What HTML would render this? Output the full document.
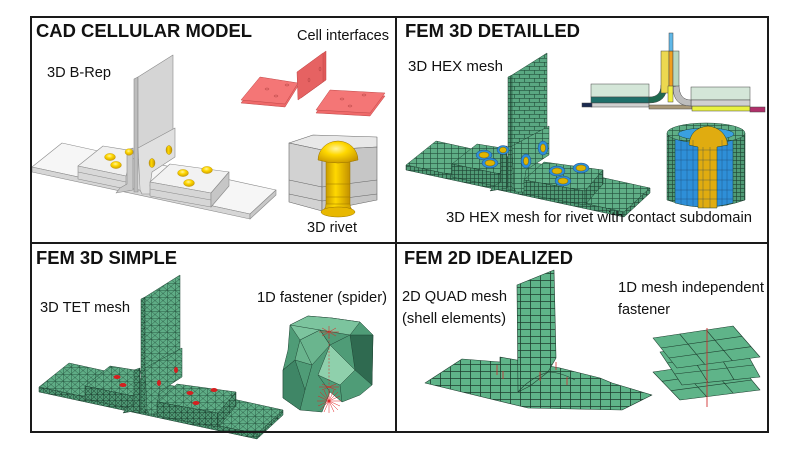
<!DOCTYPE html>
<html><head><meta charset="utf-8"><style>
html,body{margin:0;padding:0;background:#fff;}
svg{display:block;}
.h{font-family:"Liberation Sans",Arial,sans-serif;font-weight:bold;font-size:18.5px;fill:#111;}
.l{font-family:"Liberation Sans",Arial,sans-serif;font-size:14.7px;fill:#111;}
</style></head><body>
<svg width="800" height="450" viewBox="0 0 800 450" xmlns="http://www.w3.org/2000/svg">
<defs>
<pattern id="hexT" width="7" height="5" patternUnits="userSpaceOnUse"><rect width="7" height="5" fill="#5fae86"/><path d="M0 0.3H7M0.3 0V5" stroke="#24503c" stroke-width="0.7"/></pattern>
<pattern id="hexF" width="4" height="4" patternUnits="userSpaceOnUse"><rect width="4" height="4" fill="#4f9a75"/><path d="M0 0.3H4M0.3 0V4" stroke="#1f4433" stroke-width="0.7"/></pattern>
<pattern id="brick" width="10" height="8" patternUnits="userSpaceOnUse"><rect width="10" height="8" fill="#5aa882"/><path d="M0 0.3H10M0 4.3H10M0.3 0V4M5.3 4V8" stroke="#24503c" stroke-width="0.7"/></pattern>
<pattern id="tetT" width="8" height="7" patternUnits="userSpaceOnUse"><rect width="8" height="7" fill="#5fad86"/><path d="M0 0.3H8M0.3 0V7M0 0L8 7M8 0L0 7" stroke="#2a5a44" stroke-width="0.5"/></pattern>
<pattern id="tetF" width="6" height="6" patternUnits="userSpaceOnUse"><rect width="6" height="6" fill="#4d9672"/><path d="M0 0.3H6M0.3 0V6M0 0L6 6M6 0L0 6" stroke="#1f4433" stroke-width="0.5"/></pattern>
<pattern id="shell" width="10" height="7" patternUnits="userSpaceOnUse"><rect width="10" height="7" fill="#5fb489"/><path d="M0 0.4H10M0.4 0V7" stroke="#1d3d2e" stroke-width="0.8"/></pattern>
<linearGradient id="yel" x1="0" x2="1" y1="0" y2="0"><stop offset="0" stop-color="#c89a00"/><stop offset="0.4" stop-color="#ffd800"/><stop offset="1" stop-color="#c29000"/></linearGradient>
<radialGradient id="dome" cx="0.45" cy="0.35" r="0.7"><stop offset="0" stop-color="#fff4a0"/><stop offset="0.4" stop-color="#ffd800"/><stop offset="1" stop-color="#c89600"/></radialGradient>
</defs>
<rect width="800" height="450" fill="#fff"/>

<!-- ============ PANEL 1: CAD ============ -->
<g stroke="#8a8a8a" stroke-width="0.6" stroke-linejoin="round">
  <polygon points="32,167 62,143 276,190 250,214" fill="#f6f6f6"/>
  <polygon points="32,167 250,214 250,219 32,172" fill="#d6d6d6"/>
  <polygon points="250,214 276,190 276,195 250,219" fill="#c8c8c8"/>
  <polygon points="78,166 103,146 134,151 126,176" fill="#f0f0f0"/>
  <polygon points="78,166 126,176 126,189 78,179" fill="#d8d8d8"/>
  <line x1="78" y1="172" x2="126" y2="182"/>
  <polygon points="127,150 133,148 133,190 116,193 120,188 127,184" fill="#cacaca"/>
  <polygon points="134,79 138,77 138,192 134,192" fill="#bdbdbd"/>
  <polygon points="138,77 173,55 173,130 138,150" fill="#d5d5d5"/>
  <polygon points="138,148 175,128 175,157 152,172 150,186 160,194 142,194 140,190" fill="#e0e0e0"/>
  <polygon points="150,182 170,164 229,172 211,193" fill="#f2f2f2"/>
  <polygon points="150,182 211,193 211,207 150,196" fill="#d6d6d6"/>
  <polygon points="211,193 229,172 229,186 211,207" fill="#c6c6c6"/>
  <line x1="150" y1="189" x2="211" y2="200"/>
</g>
<g fill="url(#yel)" stroke="#a07a00" stroke-width="0.4">
  <ellipse cx="152" cy="163" rx="3" ry="4.5"/><ellipse cx="169" cy="150" rx="3" ry="4.5"/>
</g>
<g fill="url(#dome)" stroke="#b08800" stroke-width="0.3">
  <ellipse cx="110" cy="157" rx="5.5" ry="3.6"/><ellipse cx="116" cy="165" rx="5.5" ry="3.6"/><ellipse cx="129" cy="152" rx="4" ry="3.3"/>
  <ellipse cx="183" cy="173" rx="5.5" ry="3.6"/><ellipse cx="207" cy="170" rx="5.5" ry="3.6"/><ellipse cx="189" cy="183" rx="5.5" ry="3.6"/>
</g>

<!-- cell interfaces -->
<g stroke="#c04848" stroke-width="0.5" stroke-linejoin="round">
  <polygon points="241,103 260,80 298,86 285,107" fill="#ef6a6a"/>
  <polygon points="241,100 260,77 298,83 285,104" fill="#f47676"/>
  <polygon points="300,70 326,51 326,80 301,98" fill="#e05858"/>
  <polygon points="297,72 323,53 323,82 298,100" fill="#e66262"/>
  <polygon points="316,113 330,93 385,96 370,116" fill="#ef6a6a"/>
  <polygon points="316,110 330,90 385,93 370,113" fill="#f47676"/>
</g>
<g fill="none" stroke="#b04040" stroke-width="0.5">
  <ellipse cx="267" cy="89" rx="2" ry="1"/><ellipse cx="287" cy="85" rx="2" ry="1"/><ellipse cx="276" cy="96" rx="2" ry="1"/>
  <ellipse cx="309" cy="80" rx="1" ry="2"/><ellipse cx="320" cy="69" rx="1" ry="2"/>
  <ellipse cx="342" cy="99" rx="2" ry="1"/><ellipse cx="364" cy="95" rx="2" ry="1"/><ellipse cx="350" cy="106" rx="2" ry="1"/>
</g>

<!-- 3D rivet block -->
<g stroke="#666" stroke-width="0.6" stroke-linejoin="round">
  <polygon points="289,143 313,135 377,137 377,147 322,150" fill="#e8e8e8"/>
  <polygon points="289,143 322,150 322,211 289,202" fill="#d2d2d2"/>
  <polygon points="322,150 377,147 377,200 322,211" fill="#c6c6c6"/>
  <line x1="289" y1="180" x2="322" y2="187"/><line x1="289" y1="194" x2="322" y2="201"/>
  <line x1="322" y1="187" x2="377" y2="180"/><line x1="322" y1="201" x2="377" y2="194"/>
</g>
<g stroke="#9a7400" stroke-width="0.5">
  <rect x="326" y="158" width="24" height="50" fill="url(#yel)"/>
  <line x1="326" y1="184" x2="350" y2="184"/><line x1="326" y1="197" x2="350" y2="197"/>
  <path d="M326,204 Q326,209 321,212 L355,212 Q350,209 350,204 Z" fill="url(#yel)"/>
  <ellipse cx="338" cy="212" rx="17" ry="5" fill="#e8b800"/>
  <path d="M318,160 A20,19 0 0 1 358,160 Q338,166 318,160 Z" fill="url(#dome)"/>
</g>

<!-- ============ PANEL 2: FEM 3D DETAILLED ============ -->
<g transform="translate(374,-2)" stroke="#1f4433" stroke-width="0.5" stroke-linejoin="round">
  <polygon points="32,167 62,143 276,190 250,214" fill="url(#hexT)"/>
  <polygon points="32,167 250,214 250,219 32,172" fill="url(#hexF)"/>
  <polygon points="250,214 276,190 276,195 250,219" fill="url(#hexF)"/>
  <polygon points="78,166 103,146 134,151 126,176" fill="url(#hexT)"/>
  <polygon points="78,166 126,176 126,189 78,179" fill="url(#hexF)"/>
  <polygon points="127,150 133,148 133,190 116,193 120,188 127,184" fill="url(#hexF)"/>
  <polygon points="134,79 138,77 138,192 134,192" fill="url(#hexF)"/>
  <polygon points="138,77 173,55 173,130 138,150" fill="url(#brick)"/>
  <polygon points="138,148 175,128 175,157 152,172 150,186 160,194 142,194 140,190" fill="url(#hexT)"/>
  <polygon points="150,182 170,164 229,172 211,193" fill="url(#hexT)"/>
  <polygon points="150,182 211,193 211,207 150,196" fill="url(#hexF)"/>
  <polygon points="211,193 229,172 229,186 211,207" fill="url(#hexF)"/>
  <g stroke="#1a3a70" stroke-width="0.4">
    <ellipse cx="152" cy="163" rx="5" ry="7" fill="#2e8fd8"/><ellipse cx="169" cy="150" rx="5" ry="7" fill="#2e8fd8"/>
    <ellipse cx="110" cy="157" rx="8" ry="5" fill="#2e8fd8"/><ellipse cx="116" cy="165" rx="8" ry="5" fill="#2e8fd8"/><ellipse cx="129" cy="152" rx="6" ry="4.5" fill="#2e8fd8"/>
    <ellipse cx="183" cy="173" rx="8" ry="5" fill="#2e8fd8"/><ellipse cx="207" cy="170" rx="8" ry="5" fill="#2e8fd8"/><ellipse cx="189" cy="183" rx="8" ry="5" fill="#2e8fd8"/>
  </g>
  <g fill="#e0b400" stroke="#6a5000" stroke-width="0.4">
    <ellipse cx="152" cy="163" rx="2.5" ry="4"/><ellipse cx="169" cy="150" rx="2.5" ry="4"/>
    <ellipse cx="110" cy="157" rx="5" ry="3"/><ellipse cx="116" cy="165" rx="5" ry="3"/><ellipse cx="129" cy="152" rx="3.5" ry="2.8"/>
    <ellipse cx="183" cy="173" rx="5" ry="3"/><ellipse cx="207" cy="170" rx="5" ry="3"/><ellipse cx="189" cy="183" rx="5" ry="3"/>
  </g>
</g>

<!-- section view -->
<g stroke="#444" stroke-width="0.5">
  <rect x="591" y="84" width="58" height="13" fill="#d4e6d8"/>
  <rect x="591" y="97" width="58" height="6" fill="#1f6f6a"/>
  <rect x="591" y="103" width="58" height="4" fill="#d0d0d0"/>
  <rect x="582" y="103" width="10" height="4" fill="#1a2a50"/>
  <rect x="649" y="105" width="43" height="4" fill="#a89878"/>
  <rect x="692" y="106" width="58" height="5" fill="#e8f040"/>
  <rect x="750" y="107" width="15" height="5" fill="#b0306a"/>
  <rect x="691" y="87" width="59" height="13" fill="#d4e6d8"/>
  <rect x="691" y="100" width="59" height="6" fill="#d0d0d0"/>
  <path d="M649,97 Q661,97 661,85 L667,85 Q667,103 649,103 Z" fill="#1f6a50"/>
  <path d="M679,85 Q679,100 691,100 L691,106 Q673,106 673,87 Z" fill="#bdbdbd"/>
  <rect x="661" y="51" width="8" height="42" fill="#ecd850"/>
  <rect x="669" y="51" width="4" height="42" fill="#f0a020"/>
  <rect x="673" y="51" width="6" height="35" fill="#b8d8c0"/>
  <rect x="668" y="86" width="5" height="16" fill="#f0f040"/>
  <rect x="669" y="33" width="4" height="18" fill="#60b8e8"/>
</g>

<!-- cylinder rivet section -->
<g stroke="#1f4433" stroke-width="0.5">
  <path d="M667,133 L667,200 Q706,214 745,200 L745,133 Z" fill="url(#hexF)"/>
  <path d="M675,137 L675,203 Q704,211 733,203 L733,137 Z" fill="#2e8fd8"/>
  <ellipse cx="706" cy="133" rx="39" ry="10" fill="url(#hexT)"/>
  <ellipse cx="706" cy="134" rx="28" ry="6" fill="#3aa0e0"/>
  <path d="M698,147 L698,208 L717,208 L717,147 L728,145 Q725,128 708,126 Q690,128 689,145 Z" fill="#e0ac10"/>
</g>
<g stroke="#1a3a60" stroke-width="0.4" opacity="0.8">
  <path d="M681,138V205M687,139V206M693,140V207M722,140V207M727,139V206M703,147V208M710,147V208M675,150H733M675,160H733M675,170H733M675,180H733M675,190H733M675,199H733"/>
</g>

<!-- ============ PANEL 3: FEM 3D SIMPLE ============ -->
<g transform="translate(7,220)" stroke="#1f4433" stroke-width="0.5" stroke-linejoin="round">
  <polygon points="32,167 62,143 276,190 250,214" fill="url(#tetT)"/>
  <polygon points="32,167 250,214 250,219 32,172" fill="url(#tetF)"/>
  <polygon points="250,214 276,190 276,195 250,219" fill="url(#tetF)"/>
  <polygon points="78,166 103,146 134,151 126,176" fill="url(#tetT)"/>
  <polygon points="78,166 126,176 126,189 78,179" fill="url(#tetF)"/>
  <polygon points="127,150 133,148 133,190 116,193 120,188 127,184" fill="url(#tetF)"/>
  <polygon points="134,79 138,77 138,192 134,192" fill="url(#tetF)"/>
  <polygon points="138,77 173,55 173,130 138,150" fill="url(#tetT)"/>
  <polygon points="138,148 175,128 175,157 152,172 150,186 160,194 142,194 140,190" fill="url(#tetT)"/>
  <polygon points="150,182 170,164 229,172 211,193" fill="url(#tetT)"/>
  <polygon points="150,182 211,193 211,207 150,196" fill="url(#tetF)"/>
  <polygon points="211,193 229,172 229,186 211,207" fill="url(#tetF)"/>
  <g fill="#d42020" stroke="none">
    <ellipse cx="152" cy="163" rx="2" ry="3"/><ellipse cx="169" cy="150" rx="2" ry="3"/>
    <ellipse cx="110" cy="157" rx="3.5" ry="2"/><ellipse cx="116" cy="165" rx="3.5" ry="2"/>
    <ellipse cx="183" cy="173" rx="3.5" ry="2"/><ellipse cx="207" cy="170" rx="3.5" ry="2"/><ellipse cx="189" cy="183" rx="3.5" ry="2"/>
  </g>
</g>

<!-- spider blob -->
<g stroke="#1f4433" stroke-width="0.5" stroke-linejoin="round">
  <polygon points="290,325 308,316 332,318 360,322 373,335 372,385 360,395 342,402 330,392 322,412 300,410 283,398 283,370 288,350" fill="#4f9c77"/>
  <polygon points="290,325 308,316 332,318 360,322 350,335 320,330 300,340" fill="#7cc49e"/>
  <polygon points="300,340 320,330 330,345 312,365 295,360" fill="#6ab58e"/>
  <polygon points="350,335 373,335 372,385 355,370" fill="#2f6a50"/>
  <polygon points="283,370 295,360 305,390 300,410 283,398" fill="#3f8666"/>
  <polygon points="330,345 355,370 340,385 318,375" fill="#8fd0ac"/>
  <path d="M290,325L320,330L330,345M300,340L312,365L305,390M350,335L330,345M355,370L340,385L342,402M318,375L330,392M295,360L283,370" fill="none"/>
</g>
<g stroke="#e02020" stroke-width="0.5" fill="none">
  <path d="M329,330V400" stroke-dasharray="2,1.5"/>
  <path d="M317,401H341M329,389V413M320,392L338,410M338,392L320,410M318,396L340,406M318,406L340,396M324,390L334,412M334,390L324,412"/>
  <path d="M319,332H339M329,326V338M322,328L336,336M336,328L322,336"/>
  <path d="M319,387H339M322,384L336,390M336,384L322,390"/>
</g>

<!-- ============ PANEL 4: FEM 2D IDEALIZED ============ -->
<g stroke="#1d3d2e" stroke-width="0.6" stroke-linejoin="round">
  <polygon points="425,383 462,359 500,362 500,357 560,368 600,378 612,383 652,395 622,410 528,408" fill="url(#shell)"/>
  <polygon points="517,285 554,270 556,358 548,372 530,386 518,392" fill="url(#shell)"/>
  <path d="M518,392 Q530,378 548,372 Q560,372 575,380" fill="none" stroke="#1d3d2e"/>
</g>
<g stroke="#d03030" stroke-width="0.8">
  <path d="M497,365V375M503,371V379M540,372V381M567,377V385M556,362V370"/>
</g>
<!-- stacked shell plates -->
<g stroke="#1d3d2e" stroke-width="0.6" stroke-linejoin="round">
  <polygon points="653,372 735,360 760,390 680,400" fill="#5fb489"/>
  <path d="M680.3,368L706.7,396.7M707.7,364L733.3,393.3M662,381.3L743.3,370M671,390.7L751.7,380" fill="none"/>
  <polygon points="660,352 740,341 760,377 682,385" fill="#5fb489"/>
  <path d="M686.7,348.3L708,382.3M713.3,344.7L734,379.7M667.3,363L746.7,353M674.7,374L753.3,365" fill="none"/>
  <polygon points="653,338 733,326 760,357 677,368" fill="#5fb489"/>
  <path d="M679.7,334L704.7,364.3M706.3,330L732.3,360.7M661,348L742,336.3M669,358L751,346.7" fill="none"/>
</g>
<line x1="707" y1="328" x2="707" y2="407" stroke="#d03030" stroke-width="0.9"/>

<!-- ============ FRAME ============ -->
<g stroke="#1a1a1a" stroke-width="2" fill="none">
  <rect x="31" y="17" width="737" height="415"/>
  <line x1="396" y1="17" x2="396" y2="432"/>
  <line x1="31" y1="243" x2="768" y2="243"/>
</g>

<!-- ============ TEXT ============ -->
<text class="h" x="36" y="37" textLength="216" lengthAdjust="spacingAndGlyphs">CAD CELLULAR MODEL</text>
<text class="h" x="405" y="37" textLength="175" lengthAdjust="spacingAndGlyphs">FEM 3D DETAILLED</text>
<text class="h" x="36" y="264" textLength="141" lengthAdjust="spacingAndGlyphs">FEM 3D SIMPLE</text>
<text class="h" x="404" y="264" textLength="169" lengthAdjust="spacingAndGlyphs">FEM 2D IDEALIZED</text>

<text class="l" x="297" y="40" textLength="92" lengthAdjust="spacingAndGlyphs">Cell interfaces</text>
<text class="l" x="47" y="77" textLength="64" lengthAdjust="spacingAndGlyphs">3D B-Rep</text>
<text class="l" x="307" y="232" textLength="50" lengthAdjust="spacingAndGlyphs">3D rivet</text>
<text class="l" x="408" y="71" textLength="95" lengthAdjust="spacingAndGlyphs">3D HEX mesh</text>
<text class="l" x="446" y="222" textLength="306" lengthAdjust="spacingAndGlyphs">3D HEX mesh for rivet with contact subdomain</text>
<text class="l" x="40" y="312" textLength="90" lengthAdjust="spacingAndGlyphs">3D TET mesh</text>
<text class="l" x="257" y="302" textLength="130" lengthAdjust="spacingAndGlyphs">1D fastener (spider)</text>
<text class="l" x="402" y="301" textLength="105" lengthAdjust="spacingAndGlyphs">2D QUAD mesh</text>
<text class="l" x="402" y="323" textLength="104" lengthAdjust="spacingAndGlyphs">(shell elements)</text>
<text class="l" x="618" y="292" textLength="146" lengthAdjust="spacingAndGlyphs">1D mesh independent</text>
<text class="l" x="618" y="314" textLength="52" lengthAdjust="spacingAndGlyphs">fastener</text>
</svg>
</body></html>
